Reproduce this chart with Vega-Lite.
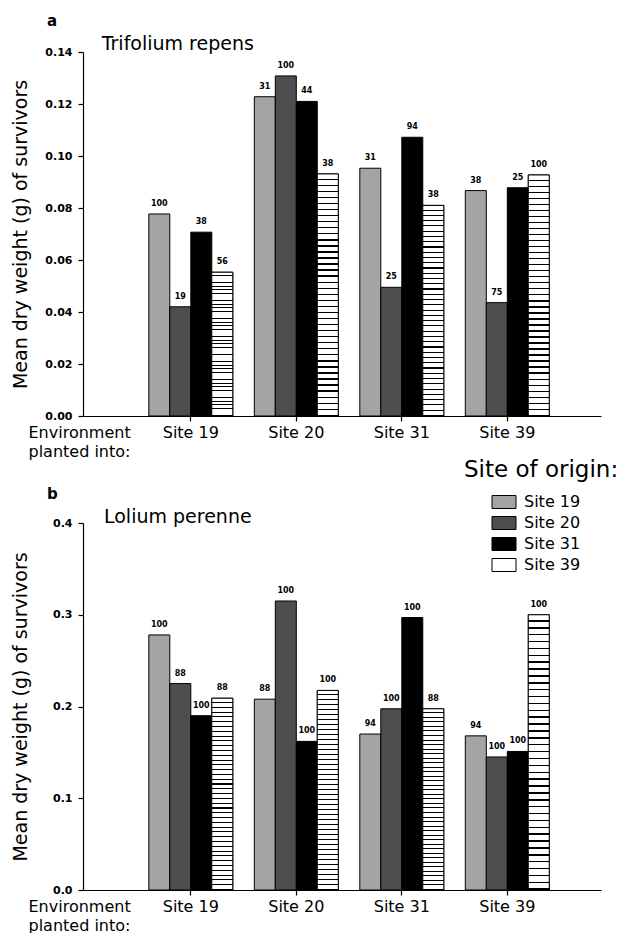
{
  "$schema": "https://vega.github.io/schema/vega-lite/v6.json",
  "background": "white",
  "padding": {"left": 11, "top": 14, "right": 0, "bottom": 0},
  "config": {
    "view": {"stroke": null},
    "font": "DejaVu Sans",
    "axis": {"domainColor": "black", "tickColor": "black", "labelColor": "black", "titleColor": "black", "grid": false, "tickSize": 5, "domainWidth": 1.2, "tickWidth": 1.2},
    "text": {"color": "black"}
  },
  "datasets": {
    "trifolium": [
      {"env": "Site 19", "origin": "Site 19", "weight": 0.0777, "n": "100"},
      {"env": "Site 19", "origin": "Site 20", "weight": 0.042, "n": "19"},
      {"env": "Site 19", "origin": "Site 31", "weight": 0.0707, "n": "38"},
      {"env": "Site 19", "origin": "Site 39", "weight": 0.0553, "n": "56"},
      {"env": "Site 20", "origin": "Site 19", "weight": 0.1228, "n": "31"},
      {"env": "Site 20", "origin": "Site 20", "weight": 0.1308, "n": "100"},
      {"env": "Site 20", "origin": "Site 31", "weight": 0.121, "n": "44"},
      {"env": "Site 20", "origin": "Site 39", "weight": 0.0931, "n": "38"},
      {"env": "Site 31", "origin": "Site 19", "weight": 0.0953, "n": "31"},
      {"env": "Site 31", "origin": "Site 20", "weight": 0.0495, "n": "25"},
      {"env": "Site 31", "origin": "Site 31", "weight": 0.1072, "n": "94"},
      {"env": "Site 31", "origin": "Site 39", "weight": 0.081, "n": "38"},
      {"env": "Site 39", "origin": "Site 19", "weight": 0.0867, "n": "38"},
      {"env": "Site 39", "origin": "Site 20", "weight": 0.0436, "n": "75"},
      {"env": "Site 39", "origin": "Site 31", "weight": 0.0878, "n": "25"},
      {"env": "Site 39", "origin": "Site 39", "weight": 0.0927, "n": "100"}
    ],
    "lolium": [
      {"env": "Site 19", "origin": "Site 19", "weight": 0.278, "n": "100"},
      {"env": "Site 19", "origin": "Site 20", "weight": 0.225, "n": "88"},
      {"env": "Site 19", "origin": "Site 31", "weight": 0.19, "n": "100"},
      {"env": "Site 19", "origin": "Site 39", "weight": 0.209, "n": "88"},
      {"env": "Site 20", "origin": "Site 19", "weight": 0.208, "n": "88"},
      {"env": "Site 20", "origin": "Site 20", "weight": 0.315, "n": "100"},
      {"env": "Site 20", "origin": "Site 31", "weight": 0.162, "n": "100"},
      {"env": "Site 20", "origin": "Site 39", "weight": 0.2175, "n": "100"},
      {"env": "Site 31", "origin": "Site 19", "weight": 0.17, "n": "94"},
      {"env": "Site 31", "origin": "Site 20", "weight": 0.1975, "n": "100"},
      {"env": "Site 31", "origin": "Site 31", "weight": 0.297, "n": "100"},
      {"env": "Site 31", "origin": "Site 39", "weight": 0.1975, "n": "88"},
      {"env": "Site 39", "origin": "Site 19", "weight": 0.168, "n": "94"},
      {"env": "Site 39", "origin": "Site 20", "weight": 0.145, "n": "100"},
      {"env": "Site 39", "origin": "Site 31", "weight": 0.151, "n": "100"},
      {"env": "Site 39", "origin": "Site 39", "weight": 0.3, "n": "100"}
    ]
  },
  "spacing": 107,
  "bounds": "flush",
  "resolve": {"legend": {"color": "independent"}},
  "vconcat": [
    {
      "width": 518,
      "height": 364,
      "title": {"text": "a", "anchor": "start", "frame": "group", "dx": -36, "offset": 6, "fontSize": 15, "fontWeight": "bold", "color": "black"},
      "data": {"name": "trifolium"},
      "layer": [
        {
          "mark": {"type": "bar", "stroke": "black", "strokeWidth": 1},
          "encoding": {
            "x": {"field": "env", "type": "nominal", "sort": ["Site 19", "Site 20", "Site 31", "Site 39"],
              "scale": {"paddingInner": 0.204, "paddingOuter": 0.557, "align": 0.56},
              "axis": {"title": ["Environment", "planted into:"], "titleX": -55, "titleY": 8, "titleAlign": "left", "titleBaseline": "top", "titleAnchor": "start", "titleFontSize": 16, "titleFontWeight": "normal", "titleLineHeight": 19, "labelFontSize": 16, "labelAngle": 0, "labelPadding": 3}},
            "xOffset": {"field": "origin", "type": "nominal", "scale": {"paddingInner": 0, "paddingOuter": 0}},
            "y": {"field": "weight", "type": "quantitative", "scale": {"domain": [0, 0.14], "nice": false},
              "axis": {"values": [0, 0.02, 0.04, 0.06, 0.08, 0.1, 0.12, 0.14], "format": ".2f", "title": "Mean dry weight (g) of survivors", "labelFontSize": 11, "labelFontWeight": "bold", "labelPadding": 6, "titleFontSize": 19, "titleFontWeight": "normal", "titlePadding": 14}},
            "color": {"field": "origin", "type": "nominal",
              "scale": {"domain": ["Site 19", "Site 20", "Site 31", "Site 39"], "range": ["#a4a4a4", "#4e4e4e", "#000000", "#ffffff"]},
              "legend": {"orient": "none", "legendX": 381, "legendY": 407, "title": "Site of origin:", "titleFontSize": 23, "titleFontWeight": "normal", "titleColor": "black", "titlePadding": 12, "labelFontSize": 16, "labelColor": "black", "symbolType": "M-2.4,-1.3H2.4V1.3H-2.4Z", "symbolSize": 100, "symbolStrokeColor": "black", "symbolStrokeWidth": 1, "symbolOffset": 32, "labelOffset": 12, "rowPadding": 3}}
          }
        },
        {
          "transform": [{"filter": "datum.origin === 'Site 39'"}],
          "mark": {"type": "bar", "stroke": "black", "strokeWidth": 1,
            "fill": {"gradient": "linear", "x1": 0, "y1": 0, "x2": 0, "y2": 1, "stops": [
              {"offset": 0, "color": "#fff"}, {"offset": 0.0195, "color": "#fff"}, {"offset": 0.0195, "color": "#000"}, {"offset": 0.025, "color": "#000"},
              {"offset": 0.025, "color": "#fff"}, {"offset": 0.0445, "color": "#fff"}, {"offset": 0.0445, "color": "#000"}, {"offset": 0.05, "color": "#000"},
              {"offset": 0.05, "color": "#fff"}, {"offset": 0.0695, "color": "#fff"}, {"offset": 0.0695, "color": "#000"}, {"offset": 0.075, "color": "#000"},
              {"offset": 0.075, "color": "#fff"}, {"offset": 0.0945, "color": "#fff"}, {"offset": 0.0945, "color": "#000"}, {"offset": 0.1, "color": "#000"},
              {"offset": 0.1, "color": "#fff"}, {"offset": 0.1195, "color": "#fff"}, {"offset": 0.1195, "color": "#000"}, {"offset": 0.125, "color": "#000"},
              {"offset": 0.125, "color": "#fff"}, {"offset": 0.1445, "color": "#fff"}, {"offset": 0.1445, "color": "#000"}, {"offset": 0.15, "color": "#000"},
              {"offset": 0.15, "color": "#fff"}, {"offset": 0.1695, "color": "#fff"}, {"offset": 0.1695, "color": "#000"}, {"offset": 0.175, "color": "#000"},
              {"offset": 0.175, "color": "#fff"}, {"offset": 0.1945, "color": "#fff"}, {"offset": 0.1945, "color": "#000"}, {"offset": 0.2, "color": "#000"},
              {"offset": 0.2, "color": "#fff"}, {"offset": 0.2195, "color": "#fff"}, {"offset": 0.2195, "color": "#000"}, {"offset": 0.225, "color": "#000"},
              {"offset": 0.225, "color": "#fff"}, {"offset": 0.2445, "color": "#fff"}, {"offset": 0.2445, "color": "#000"}, {"offset": 0.25, "color": "#000"},
              {"offset": 0.25, "color": "#fff"}, {"offset": 0.2695, "color": "#fff"}, {"offset": 0.2695, "color": "#000"}, {"offset": 0.275, "color": "#000"},
              {"offset": 0.275, "color": "#fff"}, {"offset": 0.2945, "color": "#fff"}, {"offset": 0.2945, "color": "#000"}, {"offset": 0.3, "color": "#000"},
              {"offset": 0.3, "color": "#fff"}, {"offset": 0.3195, "color": "#fff"}, {"offset": 0.3195, "color": "#000"}, {"offset": 0.325, "color": "#000"},
              {"offset": 0.325, "color": "#fff"}, {"offset": 0.3445, "color": "#fff"}, {"offset": 0.3445, "color": "#000"}, {"offset": 0.35, "color": "#000"},
              {"offset": 0.35, "color": "#fff"}, {"offset": 0.3695, "color": "#fff"}, {"offset": 0.3695, "color": "#000"}, {"offset": 0.375, "color": "#000"},
              {"offset": 0.375, "color": "#fff"}, {"offset": 0.3945, "color": "#fff"}, {"offset": 0.3945, "color": "#000"}, {"offset": 0.4, "color": "#000"},
              {"offset": 0.4, "color": "#fff"}, {"offset": 0.4195, "color": "#fff"}, {"offset": 0.4195, "color": "#000"}, {"offset": 0.425, "color": "#000"},
              {"offset": 0.425, "color": "#fff"}, {"offset": 0.4445, "color": "#fff"}, {"offset": 0.4445, "color": "#000"}, {"offset": 0.45, "color": "#000"},
              {"offset": 0.45, "color": "#fff"}, {"offset": 0.4695, "color": "#fff"}, {"offset": 0.4695, "color": "#000"}, {"offset": 0.475, "color": "#000"},
              {"offset": 0.475, "color": "#fff"}, {"offset": 0.4945, "color": "#fff"}, {"offset": 0.4945, "color": "#000"}, {"offset": 0.5, "color": "#000"},
              {"offset": 0.5, "color": "#fff"}, {"offset": 0.5195, "color": "#fff"}, {"offset": 0.5195, "color": "#000"}, {"offset": 0.525, "color": "#000"},
              {"offset": 0.525, "color": "#fff"}, {"offset": 0.5445, "color": "#fff"}, {"offset": 0.5445, "color": "#000"}, {"offset": 0.55, "color": "#000"},
              {"offset": 0.55, "color": "#fff"}, {"offset": 0.5695, "color": "#fff"}, {"offset": 0.5695, "color": "#000"}, {"offset": 0.575, "color": "#000"},
              {"offset": 0.575, "color": "#fff"}, {"offset": 0.5945, "color": "#fff"}, {"offset": 0.5945, "color": "#000"}, {"offset": 0.6, "color": "#000"},
              {"offset": 0.6, "color": "#fff"}, {"offset": 0.6195, "color": "#fff"}, {"offset": 0.6195, "color": "#000"}, {"offset": 0.625, "color": "#000"},
              {"offset": 0.625, "color": "#fff"}, {"offset": 0.6445, "color": "#fff"}, {"offset": 0.6445, "color": "#000"}, {"offset": 0.65, "color": "#000"},
              {"offset": 0.65, "color": "#fff"}, {"offset": 0.6695, "color": "#fff"}, {"offset": 0.6695, "color": "#000"}, {"offset": 0.675, "color": "#000"},
              {"offset": 0.675, "color": "#fff"}, {"offset": 0.6945, "color": "#fff"}, {"offset": 0.6945, "color": "#000"}, {"offset": 0.7, "color": "#000"},
              {"offset": 0.7, "color": "#fff"}, {"offset": 0.7195, "color": "#fff"}, {"offset": 0.7195, "color": "#000"}, {"offset": 0.725, "color": "#000"},
              {"offset": 0.725, "color": "#fff"}, {"offset": 0.7445, "color": "#fff"}, {"offset": 0.7445, "color": "#000"}, {"offset": 0.75, "color": "#000"},
              {"offset": 0.75, "color": "#fff"}, {"offset": 0.7695, "color": "#fff"}, {"offset": 0.7695, "color": "#000"}, {"offset": 0.775, "color": "#000"},
              {"offset": 0.775, "color": "#fff"}, {"offset": 0.7945, "color": "#fff"}, {"offset": 0.7945, "color": "#000"}, {"offset": 0.8, "color": "#000"},
              {"offset": 0.8, "color": "#fff"}, {"offset": 0.8195, "color": "#fff"}, {"offset": 0.8195, "color": "#000"}, {"offset": 0.825, "color": "#000"},
              {"offset": 0.825, "color": "#fff"}, {"offset": 0.8445, "color": "#fff"}, {"offset": 0.8445, "color": "#000"}, {"offset": 0.85, "color": "#000"},
              {"offset": 0.85, "color": "#fff"}, {"offset": 0.8695, "color": "#fff"}, {"offset": 0.8695, "color": "#000"}, {"offset": 0.875, "color": "#000"},
              {"offset": 0.875, "color": "#fff"}, {"offset": 0.8945, "color": "#fff"}, {"offset": 0.8945, "color": "#000"}, {"offset": 0.9, "color": "#000"},
              {"offset": 0.9, "color": "#fff"}, {"offset": 0.9195, "color": "#fff"}, {"offset": 0.9195, "color": "#000"}, {"offset": 0.925, "color": "#000"},
              {"offset": 0.925, "color": "#fff"}, {"offset": 0.9445, "color": "#fff"}, {"offset": 0.9445, "color": "#000"}, {"offset": 0.95, "color": "#000"},
              {"offset": 0.95, "color": "#fff"}, {"offset": 0.9695, "color": "#fff"}, {"offset": 0.9695, "color": "#000"}, {"offset": 0.975, "color": "#000"},
              {"offset": 0.975, "color": "#fff"}, {"offset": 0.9945, "color": "#fff"}, {"offset": 0.9945, "color": "#000"}, {"offset": 1, "color": "#000"}
            ]}},
          "encoding": {
            "x": {"field": "env", "type": "nominal"},
            "xOffset": {"field": "origin", "type": "nominal"},
            "y": {"field": "weight", "type": "quantitative"}
          }
        },
        {
          "mark": {"type": "text", "baseline": "bottom", "dy": -6, "fontSize": 8, "fontWeight": "bold"},
          "encoding": {
            "x": {"field": "env", "type": "nominal"},
            "xOffset": {"field": "origin", "type": "nominal"},
            "y": {"field": "weight", "type": "quantitative"},
            "text": {"field": "n"}
          }
        },
        {
          "data": {"values": [{"label": "Trifolium repens"}]},
          "mark": {"type": "text", "fontSize": 19, "dx": -13, "dy": -2, "baseline": "alphabetic", "align": "center"},
          "encoding": {
            "x": {"datum": "Site 19", "type": "nominal"},
            "y": {"datum": 0.14, "type": "quantitative"},
            "text": {"field": "label"}
          }
        }
      ]
    },
    {
      "width": 518,
      "height": 367,
      "title": {"text": "b", "anchor": "start", "frame": "group", "dx": -36, "offset": 6, "fontSize": 15, "fontWeight": "bold", "color": "black"},
      "data": {"name": "lolium"},
      "layer": [
        {
          "mark": {"type": "bar", "stroke": "black", "strokeWidth": 1},
          "encoding": {
            "x": {"field": "env", "type": "nominal", "sort": ["Site 19", "Site 20", "Site 31", "Site 39"],
              "scale": {"paddingInner": 0.204, "paddingOuter": 0.557, "align": 0.56},
              "axis": {"title": ["Environment", "planted into:"], "titleX": -55, "titleY": 8, "titleAlign": "left", "titleBaseline": "top", "titleAnchor": "start", "titleFontSize": 16, "titleFontWeight": "normal", "titleLineHeight": 19, "labelFontSize": 16, "labelAngle": 0, "labelPadding": 3}},
            "xOffset": {"field": "origin", "type": "nominal", "scale": {"paddingInner": 0, "paddingOuter": 0}},
            "y": {"field": "weight", "type": "quantitative", "scale": {"domain": [0, 0.4], "nice": false},
              "axis": {"values": [0, 0.1, 0.2, 0.3, 0.4], "format": ".1f", "title": "Mean dry weight (g) of survivors", "labelFontSize": 11, "labelFontWeight": "bold", "labelPadding": 6, "titleFontSize": 19, "titleFontWeight": "normal", "titlePadding": 22}},
            "color": {"field": "origin", "type": "nominal", "legend": null}
          }
        },
        {
          "transform": [{"filter": "datum.origin === 'Site 39'"}],
          "mark": {"type": "bar", "stroke": "black", "strokeWidth": 1,
            "fill": {"gradient": "linear", "x1": 0, "y1": 0, "x2": 0, "y2": 1, "stops": [
              {"offset": 0, "color": "#fff"}, {"offset": 0.0195, "color": "#fff"}, {"offset": 0.0195, "color": "#000"}, {"offset": 0.025, "color": "#000"},
              {"offset": 0.025, "color": "#fff"}, {"offset": 0.0445, "color": "#fff"}, {"offset": 0.0445, "color": "#000"}, {"offset": 0.05, "color": "#000"},
              {"offset": 0.05, "color": "#fff"}, {"offset": 0.0695, "color": "#fff"}, {"offset": 0.0695, "color": "#000"}, {"offset": 0.075, "color": "#000"},
              {"offset": 0.075, "color": "#fff"}, {"offset": 0.0945, "color": "#fff"}, {"offset": 0.0945, "color": "#000"}, {"offset": 0.1, "color": "#000"},
              {"offset": 0.1, "color": "#fff"}, {"offset": 0.1195, "color": "#fff"}, {"offset": 0.1195, "color": "#000"}, {"offset": 0.125, "color": "#000"},
              {"offset": 0.125, "color": "#fff"}, {"offset": 0.1445, "color": "#fff"}, {"offset": 0.1445, "color": "#000"}, {"offset": 0.15, "color": "#000"},
              {"offset": 0.15, "color": "#fff"}, {"offset": 0.1695, "color": "#fff"}, {"offset": 0.1695, "color": "#000"}, {"offset": 0.175, "color": "#000"},
              {"offset": 0.175, "color": "#fff"}, {"offset": 0.1945, "color": "#fff"}, {"offset": 0.1945, "color": "#000"}, {"offset": 0.2, "color": "#000"},
              {"offset": 0.2, "color": "#fff"}, {"offset": 0.2195, "color": "#fff"}, {"offset": 0.2195, "color": "#000"}, {"offset": 0.225, "color": "#000"},
              {"offset": 0.225, "color": "#fff"}, {"offset": 0.2445, "color": "#fff"}, {"offset": 0.2445, "color": "#000"}, {"offset": 0.25, "color": "#000"},
              {"offset": 0.25, "color": "#fff"}, {"offset": 0.2695, "color": "#fff"}, {"offset": 0.2695, "color": "#000"}, {"offset": 0.275, "color": "#000"},
              {"offset": 0.275, "color": "#fff"}, {"offset": 0.2945, "color": "#fff"}, {"offset": 0.2945, "color": "#000"}, {"offset": 0.3, "color": "#000"},
              {"offset": 0.3, "color": "#fff"}, {"offset": 0.3195, "color": "#fff"}, {"offset": 0.3195, "color": "#000"}, {"offset": 0.325, "color": "#000"},
              {"offset": 0.325, "color": "#fff"}, {"offset": 0.3445, "color": "#fff"}, {"offset": 0.3445, "color": "#000"}, {"offset": 0.35, "color": "#000"},
              {"offset": 0.35, "color": "#fff"}, {"offset": 0.3695, "color": "#fff"}, {"offset": 0.3695, "color": "#000"}, {"offset": 0.375, "color": "#000"},
              {"offset": 0.375, "color": "#fff"}, {"offset": 0.3945, "color": "#fff"}, {"offset": 0.3945, "color": "#000"}, {"offset": 0.4, "color": "#000"},
              {"offset": 0.4, "color": "#fff"}, {"offset": 0.4195, "color": "#fff"}, {"offset": 0.4195, "color": "#000"}, {"offset": 0.425, "color": "#000"},
              {"offset": 0.425, "color": "#fff"}, {"offset": 0.4445, "color": "#fff"}, {"offset": 0.4445, "color": "#000"}, {"offset": 0.45, "color": "#000"},
              {"offset": 0.45, "color": "#fff"}, {"offset": 0.4695, "color": "#fff"}, {"offset": 0.4695, "color": "#000"}, {"offset": 0.475, "color": "#000"},
              {"offset": 0.475, "color": "#fff"}, {"offset": 0.4945, "color": "#fff"}, {"offset": 0.4945, "color": "#000"}, {"offset": 0.5, "color": "#000"},
              {"offset": 0.5, "color": "#fff"}, {"offset": 0.5195, "color": "#fff"}, {"offset": 0.5195, "color": "#000"}, {"offset": 0.525, "color": "#000"},
              {"offset": 0.525, "color": "#fff"}, {"offset": 0.5445, "color": "#fff"}, {"offset": 0.5445, "color": "#000"}, {"offset": 0.55, "color": "#000"},
              {"offset": 0.55, "color": "#fff"}, {"offset": 0.5695, "color": "#fff"}, {"offset": 0.5695, "color": "#000"}, {"offset": 0.575, "color": "#000"},
              {"offset": 0.575, "color": "#fff"}, {"offset": 0.5945, "color": "#fff"}, {"offset": 0.5945, "color": "#000"}, {"offset": 0.6, "color": "#000"},
              {"offset": 0.6, "color": "#fff"}, {"offset": 0.6195, "color": "#fff"}, {"offset": 0.6195, "color": "#000"}, {"offset": 0.625, "color": "#000"},
              {"offset": 0.625, "color": "#fff"}, {"offset": 0.6445, "color": "#fff"}, {"offset": 0.6445, "color": "#000"}, {"offset": 0.65, "color": "#000"},
              {"offset": 0.65, "color": "#fff"}, {"offset": 0.6695, "color": "#fff"}, {"offset": 0.6695, "color": "#000"}, {"offset": 0.675, "color": "#000"},
              {"offset": 0.675, "color": "#fff"}, {"offset": 0.6945, "color": "#fff"}, {"offset": 0.6945, "color": "#000"}, {"offset": 0.7, "color": "#000"},
              {"offset": 0.7, "color": "#fff"}, {"offset": 0.7195, "color": "#fff"}, {"offset": 0.7195, "color": "#000"}, {"offset": 0.725, "color": "#000"},
              {"offset": 0.725, "color": "#fff"}, {"offset": 0.7445, "color": "#fff"}, {"offset": 0.7445, "color": "#000"}, {"offset": 0.75, "color": "#000"},
              {"offset": 0.75, "color": "#fff"}, {"offset": 0.7695, "color": "#fff"}, {"offset": 0.7695, "color": "#000"}, {"offset": 0.775, "color": "#000"},
              {"offset": 0.775, "color": "#fff"}, {"offset": 0.7945, "color": "#fff"}, {"offset": 0.7945, "color": "#000"}, {"offset": 0.8, "color": "#000"},
              {"offset": 0.8, "color": "#fff"}, {"offset": 0.8195, "color": "#fff"}, {"offset": 0.8195, "color": "#000"}, {"offset": 0.825, "color": "#000"},
              {"offset": 0.825, "color": "#fff"}, {"offset": 0.8445, "color": "#fff"}, {"offset": 0.8445, "color": "#000"}, {"offset": 0.85, "color": "#000"},
              {"offset": 0.85, "color": "#fff"}, {"offset": 0.8695, "color": "#fff"}, {"offset": 0.8695, "color": "#000"}, {"offset": 0.875, "color": "#000"},
              {"offset": 0.875, "color": "#fff"}, {"offset": 0.8945, "color": "#fff"}, {"offset": 0.8945, "color": "#000"}, {"offset": 0.9, "color": "#000"},
              {"offset": 0.9, "color": "#fff"}, {"offset": 0.9195, "color": "#fff"}, {"offset": 0.9195, "color": "#000"}, {"offset": 0.925, "color": "#000"},
              {"offset": 0.925, "color": "#fff"}, {"offset": 0.9445, "color": "#fff"}, {"offset": 0.9445, "color": "#000"}, {"offset": 0.95, "color": "#000"},
              {"offset": 0.95, "color": "#fff"}, {"offset": 0.9695, "color": "#fff"}, {"offset": 0.9695, "color": "#000"}, {"offset": 0.975, "color": "#000"},
              {"offset": 0.975, "color": "#fff"}, {"offset": 0.9945, "color": "#fff"}, {"offset": 0.9945, "color": "#000"}, {"offset": 1, "color": "#000"}
            ]}},
          "encoding": {
            "x": {"field": "env", "type": "nominal"},
            "xOffset": {"field": "origin", "type": "nominal"},
            "y": {"field": "weight", "type": "quantitative"}
          }
        },
        {
          "mark": {"type": "text", "baseline": "bottom", "dy": -6, "fontSize": 8, "fontWeight": "bold"},
          "encoding": {
            "x": {"field": "env", "type": "nominal"},
            "xOffset": {"field": "origin", "type": "nominal"},
            "y": {"field": "weight", "type": "quantitative"},
            "text": {"field": "n"}
          }
        },
        {
          "data": {"values": [{"label": "Lolium perenne"}]},
          "mark": {"type": "text", "fontSize": 19, "dx": -13, "dy": 0, "baseline": "alphabetic", "align": "center"},
          "encoding": {
            "x": {"datum": "Site 19", "type": "nominal"},
            "y": {"datum": 0.4, "type": "quantitative"},
            "text": {"field": "label"}
          }
        }
      ]
    }
  ]
}
